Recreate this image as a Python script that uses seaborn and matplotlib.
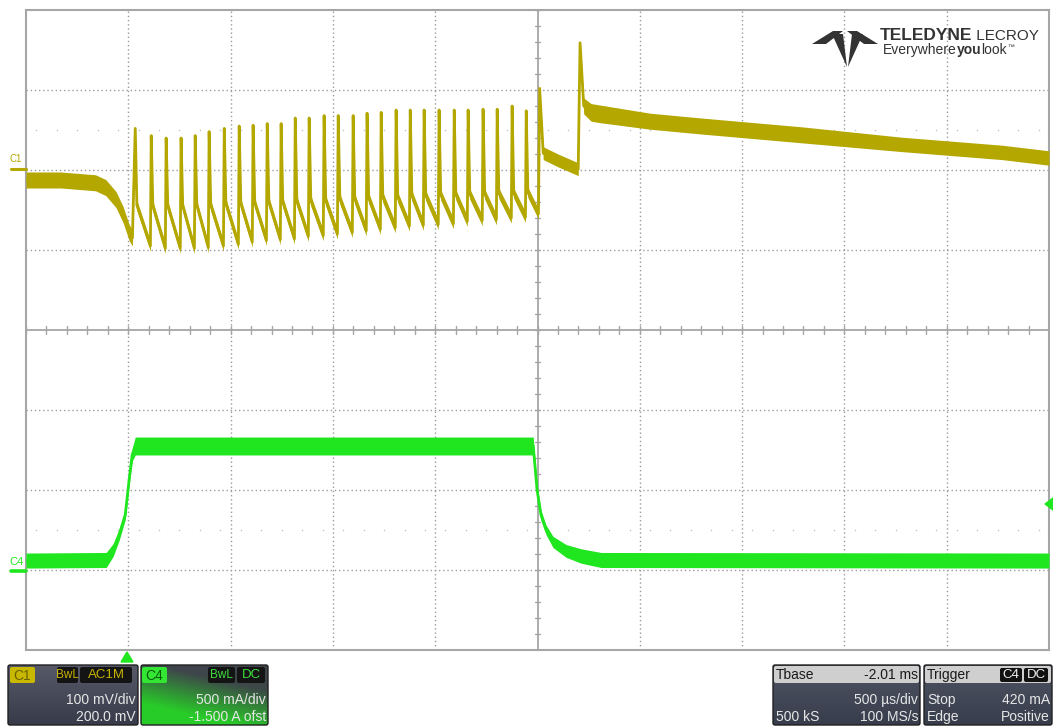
import numpy as np
import pandas as pd
import seaborn as sns
import matplotlib.pyplot as plt
from matplotlib.patches import Polygon, FancyBboxPatch

# ---- C1 : 100 mV/div, 200 mV offset  (time in ms, trigger at 0)
c1_pre_t = [-0.50, -0.33, -0.16, -0.11, -0.06, -0.025, 0.004, 0.020]
c1_pre_mv = [-12.5, -12.5, -16, -22, -37, -56, -78, -85]

# ringing pulse train: spike time, spike top, level after spike, level before next spike
pulse_t = [0.034, 0.112, 0.185, 0.258, 0.327, 0.395, 0.469, 0.542, 0.610, 0.679,
           0.747, 0.816, 0.884, 0.957, 1.026, 1.099, 1.167, 1.236, 1.309, 1.378,
           1.446, 1.519, 1.593, 1.661, 1.734, 1.803, 1.876, 1.945]
pulse_peak_mv = [52, 43, 40, 40, 43, 48, 52, 55, 56, 58, 58, 65, 65, 68, 68, 68,
                 71, 72, 75, 75, 75, 75, 75, 75, 76, 76, 80, 74]
pulse_shoulder_mv = [-44, -45, -45, -45, -44, -44, -42, -42, -41, -40, -40, -39, -38, -38,
                     -36, -36, -35, -34, -34, -32, -32, -31, -31, -30, -30, -29, -29, -28]
pulse_trough_mv = [-95, -98, -98, -98, -97, -95, -93, -90, -88, -87, -86, -83, -82, -80,
                   -78, -76, -74, -72, -70, -69, -68, -67, -64, -63, -62, -60, -59, -55]

c1_tail_t = [2.0105, 2.028, 2.10, 2.199, 2.208, 2.226, 2.262, 2.31, 2.55, 2.80, 3.29, 3.78, 4.27, 4.50]
c1_tail_mv = [102, 21, 12, 1, 159, 80, 72, 70, 61, 55, 44, 32, 22, 15]
c1_tail_noise = [3, 8, 8, 8, 2, 10, 11, 11, 10, 10, 10, 9, 9, 9]

# ---- C4 : 500 mA/div, -1.5 A offset
c4_t = [-0.50, -0.108, -0.074, -0.045, -0.015, 0.004, 0.019, 0.034,
        1.979, 1.998, 2.017, 2.042, 2.076, 2.14, 2.213, 2.311, 4.50]
c4_amp = [0.059, 0.0625, 0.125, 0.219, 0.344, 0.5625, 0.72, 0.775,
          0.775, 0.50, 0.344, 0.25, 0.175, 0.119, 0.0875, 0.0625, 0.059]
c4_noise = [0.047, 0.047, 0.04, 0.035, 0.03, 0.03, 0.04, 0.056,
            0.056, 0.03, 0.03, 0.03, 0.035, 0.04, 0.045, 0.047, 0.047]

C1_COL = '#b3a700'
C4_COL = '#1fe61f'
GRID = '#9a9a9a'
FRAME = '#a6a6a6'

# assemble the C1 vertex list (mV, noise half width in mV)
t1, v1, w1 = list(c1_pre_t), list(c1_pre_mv), [10] * len(c1_pre_t)
for k in range(len(pulse_t)):
    t0 = pulse_t[k]
    t_end = pulse_t[k + 1] - 0.004 if k < len(pulse_t) - 1 else c1_tail_t[0] - 0.006
    t1 += [t0, t0 + 0.008, t_end]
    v1 += [pulse_peak_mv[k], pulse_shoulder_mv[k], pulse_trough_mv[k]]
    w1 += [2, 6.5, 6.5]
t1 += c1_tail_t
v1 += c1_tail_mv
w1 += c1_tail_noise

c1 = pd.DataFrame({'t': t1, 'div': np.array(v1) / 100 + 2, 'hw': np.array(w1) / 100})
c4 = pd.DataFrame({'t': c4_t, 'div': np.array(c4_amp) / 0.5 - 3, 'hw': np.array(c4_noise) / 0.5})

sns.set_style("white")
plt.rcParams['font.family'] = ['Liberation Sans', 'DejaVu Sans']

W, H = 1053, 726
fig = plt.figure(figsize=(W / 100, H / 100), dpi=100)
ax = fig.add_axes([26 / W, 1 - 650 / H, 1023 / W, 640 / H])
ax.set_xlim(-0.5, 4.5)
ax.set_ylim(-4, 4)

# graticule
for k in range(1, 10):
    x = -0.5 + 0.5 * k
    if k == 5:
        ax.axvline(x, color=FRAME, lw=1.3, zorder=1)
    else:
        ax.axvline(x, color=GRID, lw=1, ls=(0, (1, 2)), zorder=1)
for y in range(-3, 4):
    if y == 0:
        ax.axhline(y, color=FRAME, lw=1.3, zorder=1)
    else:
        ax.axhline(y, color=GRID, lw=1, ls=(0, (1, 2)), zorder=1)
for x in np.arange(-0.5, 4.51, 0.1):
    ax.plot([x, x], [-0.05, 0.05], color=FRAME, lw=1, zorder=1)
for y in np.arange(-4, 4.01, 0.2):
    ax.plot([1.988, 2.012], [y, y], color=FRAME, lw=1, zorder=1)
xs = np.arange(-0.45, 4.5, 0.1)
for y in (2.5, -2.5):
    ax.scatter(xs, [y] * len(xs), s=1.2, color='#c2c2c2', lw=0, zorder=1)

# traces
for df, col in ((c1, C1_COL), (c4, C4_COL)):
    ax.fill_between(df['t'], df['div'] - df['hw'], df['div'] + df['hw'], color=col, lw=0, zorder=3)
    sns.lineplot(data=df, x='t', y='div', ax=ax, color=col, lw=2.0, sort=False,
                 estimator=None, zorder=4)

ax.set_xlabel('')
ax.set_ylabel('')
ax.set_xticks([])
ax.set_yticks([])
for s in ax.spines.values():
    s.set_color(FRAME)
    s.set_linewidth(1.5)

# overlay in pixel coordinates
ov = fig.add_axes([0, 0, 1, 1], zorder=5)
ov.set_xlim(0, W)
ov.set_ylim(H, 0)
ov.axis('off')
ov.patch.set_alpha(0)

# channel markers
ov.plot([11, 26], [169, 169], color=C1_COL, lw=2.2)
ov.text(16, 159, 'C1', color=C1_COL, fontsize=7, ha='center', va='center')
ov.plot([11, 26], [571, 571], color=C4_COL, lw=2.6)
ov.text(16, 562, 'C4', color=C4_COL, fontsize=8, ha='center', va='center')
ov.add_patch(Polygon([(121, 662), (133, 662), (127, 652)], color=C4_COL))
ov.add_patch(Polygon([(1053, 498), (1053, 510), (1045, 504)], color=C4_COL))

# logo
LOGO = '#333333'
for pts in ([(812, 44), (833, 31), (843, 31), (826, 44)],
            [(878, 44), (857, 31), (847, 31), (864, 44)],
            [(832, 34), (843, 34), (847, 67)],
            [(852, 34), (863, 34), (848, 67)]):
    ov.add_patch(Polygon(pts, color=LOGO, lw=0))

renderer = fig.canvas.get_renderer()


def run_text(x, y, parts):
    for s, wgt, size, dy in parts:
        t = ov.text(x, y + dy, s, fontsize=size, weight=wgt, color=LOGO, va='baseline', ha='left')
        x += t.get_window_extent(renderer=renderer).width


run_text(880, 40, [('TELEDYNE', 'bold', 12.5, 0), (' LECROY', 'normal', 11, 0)])
run_text(883, 54, [('Everywhere', 'normal', 10, 0), ('you', 'bold', 10, 0),
                   ('look', 'normal', 10, 0), ('\u2122', 'normal', 5, -5)])


# info panels
def gradient_box(x0, y0, x1, y1, top, bottom, green=None):
    ny, nx = 40, 60
    fy = np.linspace(0, 1, ny)[:, None] * np.ones((1, nx))
    fx = np.ones((ny, 1)) * np.linspace(0, 1, nx)[None, :]
    top, bottom = np.array(top), np.array(bottom)
    img = top * (1 - fy[..., None]) + bottom * fy[..., None]
    if green is not None:
        g = np.clip(1.4 * fy - 0.7 * fx + 0.1, 0, 1)[..., None]
        img = img * (1 - g) + np.array(green) * g
    ov.imshow(img, extent=(x0, x1, y1, y0), aspect='auto', origin='upper', zorder=1)
    ov.add_patch(FancyBboxPatch((x0, y0), x1 - x0, y1 - y0, boxstyle='round,pad=0,rounding_size=2',
                                fill=False, ec='#202020', lw=1, zorder=2))


def tag(x0, x1, y0, y1, s, fc, tc, size=8.5):
    ov.add_patch(FancyBboxPatch((x0, y0), x1 - x0, y1 - y0, boxstyle='round,pad=0,rounding_size=2',
                                fc=fc, ec='none', zorder=3))
    ov.text((x0 + x1) / 2, (y0 + y1) / 2 + 0.5, s, color=tc, fontsize=size, ha='center', va='center', zorder=4)


TXT = '#e6e6e6'
DARK = '#1a1a1a'
R1, R2, R3 = 675, 700, 717

gradient_box(8, 665, 138, 725, (0.34, 0.35, 0.41), (0.22, 0.23, 0.29))
tag(10, 35, 667, 683, 'C1', '#c8b800', '#6b6200', 10)
tag(57, 78, 667, 683, 'BwL', '#141414', '#c8b400')
tag(80, 132, 667, 683, 'AC1M', '#141414', '#c8b400', 9.5)
ov.text(136, R2, '100 mV/div', color=TXT, fontsize=10, ha='right', va='center', zorder=4)
ov.text(136, R3, '200.0 mV', color=TXT, fontsize=10, ha='right', va='center', zorder=4)

gradient_box(141, 665, 268, 725, (0.25, 0.27, 0.30), (0.22, 0.30, 0.25), green=(0.16, 0.80, 0.16))
tag(142, 167, 667, 683, 'C4', '#33e633', '#0a5a0a', 10)
tag(208, 235, 667, 683, 'BwL', '#141414', '#3ddf3d')
tag(237, 265, 667, 683, 'DC', '#141414', '#3ddf3d', 9.5)
ov.text(266, R2, '500 mA/div', color=TXT, fontsize=10, ha='right', va='center', zorder=4)
ov.text(266, R3, '-1.500 A ofst', color=TXT, fontsize=10, ha='right', va='center', zorder=4)

gradient_box(773, 665, 920, 725, (0.31, 0.33, 0.39), (0.22, 0.24, 0.30))
ov.add_patch(FancyBboxPatch((774, 666), 145, 17, boxstyle='round,pad=0,rounding_size=2',
                            fc='#cfcfcf', ec='none', zorder=3))
ov.text(776, R1, 'Tbase', color=DARK, fontsize=10, ha='left', va='center', zorder=4)
ov.text(918, R1, '-2.01 ms', color=DARK, fontsize=10, ha='right', va='center', zorder=4)
ov.text(918, R2, '500 \u00b5s/div', color=TXT, fontsize=10, ha='right', va='center', zorder=4)
ov.text(776, R3, '500 kS', color=TXT, fontsize=10, ha='left', va='center', zorder=4)
ov.text(918, R3, '100 MS/s', color=TXT, fontsize=10, ha='right', va='center', zorder=4)

gradient_box(924, 665, 1052, 725, (0.31, 0.33, 0.39), (0.22, 0.24, 0.30))
ov.add_patch(FancyBboxPatch((925, 666), 126, 17, boxstyle='round,pad=0,rounding_size=2',
                            fc='#cfcfcf', ec='none', zorder=3))
tag(1000, 1022, 668, 682, 'C4', '#111111', '#f0f0f0', 9.5)
tag(1024, 1048, 668, 682, 'DC', '#111111', '#f0f0f0', 9.5)
ov.text(927, R1, 'Trigger', color=DARK, fontsize=10, ha='left', va='center', zorder=4)
ov.text(927, R2, 'Stop', color=TXT, fontsize=10, ha='left', va='center', zorder=4)
ov.text(1050, R2, '420 mA', color=TXT, fontsize=10, ha='right', va='center', zorder=4)
ov.text(927, R3, 'Edge', color=TXT, fontsize=10, ha='left', va='center', zorder=4)
ov.text(1050, R3, 'Positive', color=TXT, fontsize=10, ha='right', va='center', zorder=4)

ov.set_xlim(0, W)
ov.set_ylim(H, 0)

fig.savefig('out.png', dpi=100)
